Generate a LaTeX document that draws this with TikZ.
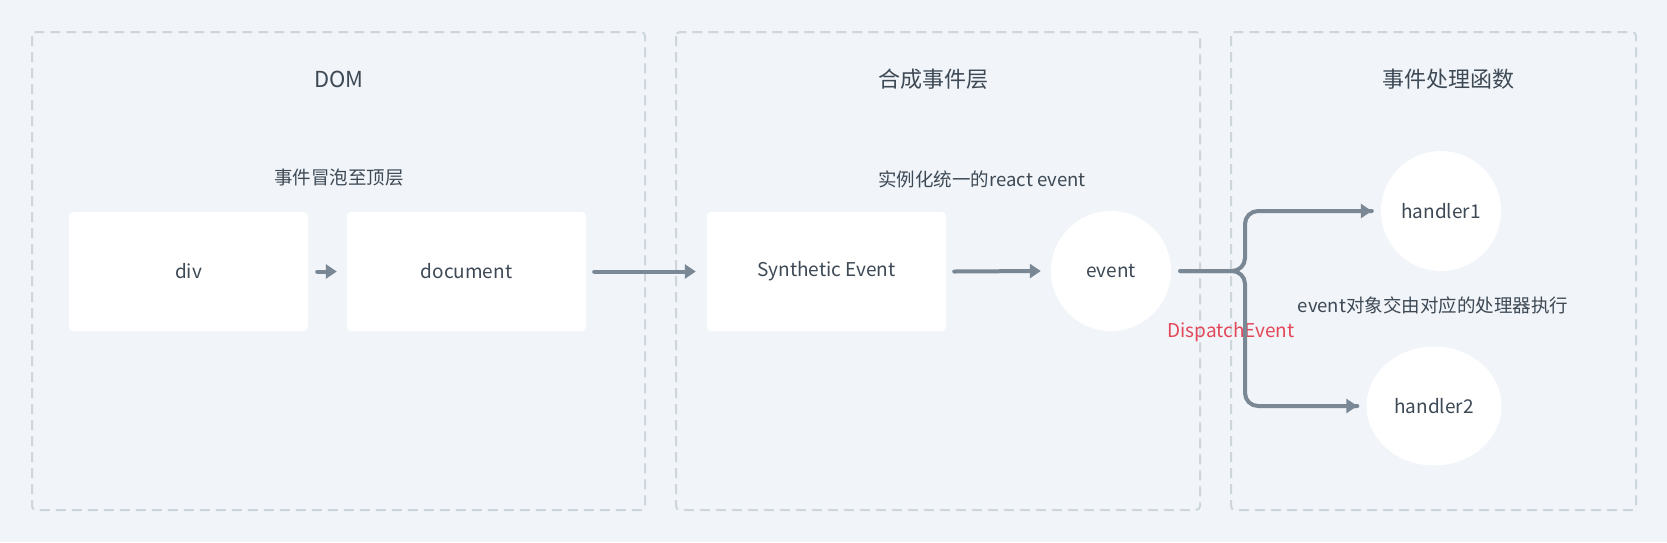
\documentclass[tikz,border=0pt]{standalone}
\usepackage{fontspec}
\setmainfont{Noto Sans CJK SC}
\usetikzlibrary{arrows.meta,shapes.geometric}
\definecolor{bgc}{HTML}{F1F4F8}
\definecolor{dashc}{HTML}{CDD5DD}
\definecolor{txtc}{HTML}{3D4955}
\definecolor{arrc}{HTML}{7A8896}
\definecolor{redc}{HTML}{E2485A}
\tikzset{
  frame/.style={draw=dashc, line width=2pt, dash pattern=on 10pt off 6pt, rounded corners=4pt},
  title/.style={text=txtc, font=\fontsize{22}{26}\selectfont},
  sub/.style={text=txtc, font=\fontsize{18.5}{22}\selectfont},
  box/.style={fill=white, rounded corners=4pt, minimum width=239pt, minimum height=119pt, text=txtc, font=\fontsize{19}{23}\selectfont, inner sep=0pt},
  circ/.style={fill=white, circle, minimum size=120pt, text=txtc, font=\fontsize{19}{23}\selectfont, inner sep=0pt},
  arr/.style={draw=arrc, line width=4pt, line cap=round, -{Triangle[length=11pt,width=14pt]}},
  brace/.style={draw=arrc, line width=4pt, line cap=round, rounded corners=13pt},
}
\begin{document}
\begin{tikzpicture}[x=1pt,y=-1pt]
\fill[bgc] (0,0) rectangle (1667,542);
\useasboundingbox (0,0) rectangle (1667,542);
% frames
\draw[frame] (32,32) rectangle (645,510);
\draw[frame] (676,32) rectangle (1200,510);
\draw[frame] (1231,32) rectangle (1636,510);
% titles
\node[title] (t1) at (339,79) {DOM};
\node[title] (t2) at (933,79) {合成事件层};
\node[title] (t3) at (1448,79) {事件处理函数};
\node[sub] (s1) at (339,178) {事件冒泡至顶层};
\node[sub] (s2) at (982,179) {实例化统一的react event};
\node[sub] (s3) at (1433,305) {event对象交由对应的处理器执行};
\node[text=redc, font=\fontsize{19}{23}\selectfont] (disp) at (1231,332) {DispatchEvent};
% boxes
\node[box] (div) at (188.5,271.5) {div};
\node[box] (doc) at (466.5,271.5) {document};
\node[box] (syn) at (826.5,271.5) {Synthetic Event};
\node[circ] (ev) at (1111,271) {event};
\node[circ] (h1) at (1441,211) {handler1};
\node[fill=white, ellipse, minimum width=135pt, minimum height=119pt, text=txtc, font=\fontsize{19}{23}\selectfont, inner sep=0pt] (h2) at (1434,406) {handler2};
% arrows
\draw[arr] ([xshift=9pt]div.east) -- ([xshift=-10pt]doc.west);
\draw[arr] ([xshift=8pt]doc.east) -- ([xshift=-11pt]syn.west);
\draw[arr] ([xshift=8pt]syn.east) -- ([xshift=-10pt]ev.west);
% brace
\coordinate (bs) at ([xshift=9pt]ev.east);
\coordinate (bm) at (1245,271);
\coordinate (e1) at ([xshift=-9pt]h1.west);
\coordinate (e2) at ([xshift=-9pt]h2.west);
\draw[brace] (bs) -- (bm) -- (bm |- e1) -- (e1);
\draw[brace] (bs) -- (bm) -- (bm |- e2) -- (e2);
\draw[arr] ([xshift=-2pt]e1) -- (e1);
\draw[arr] ([xshift=-2pt]e2) -- (e2);
\end{tikzpicture}
\end{document}
